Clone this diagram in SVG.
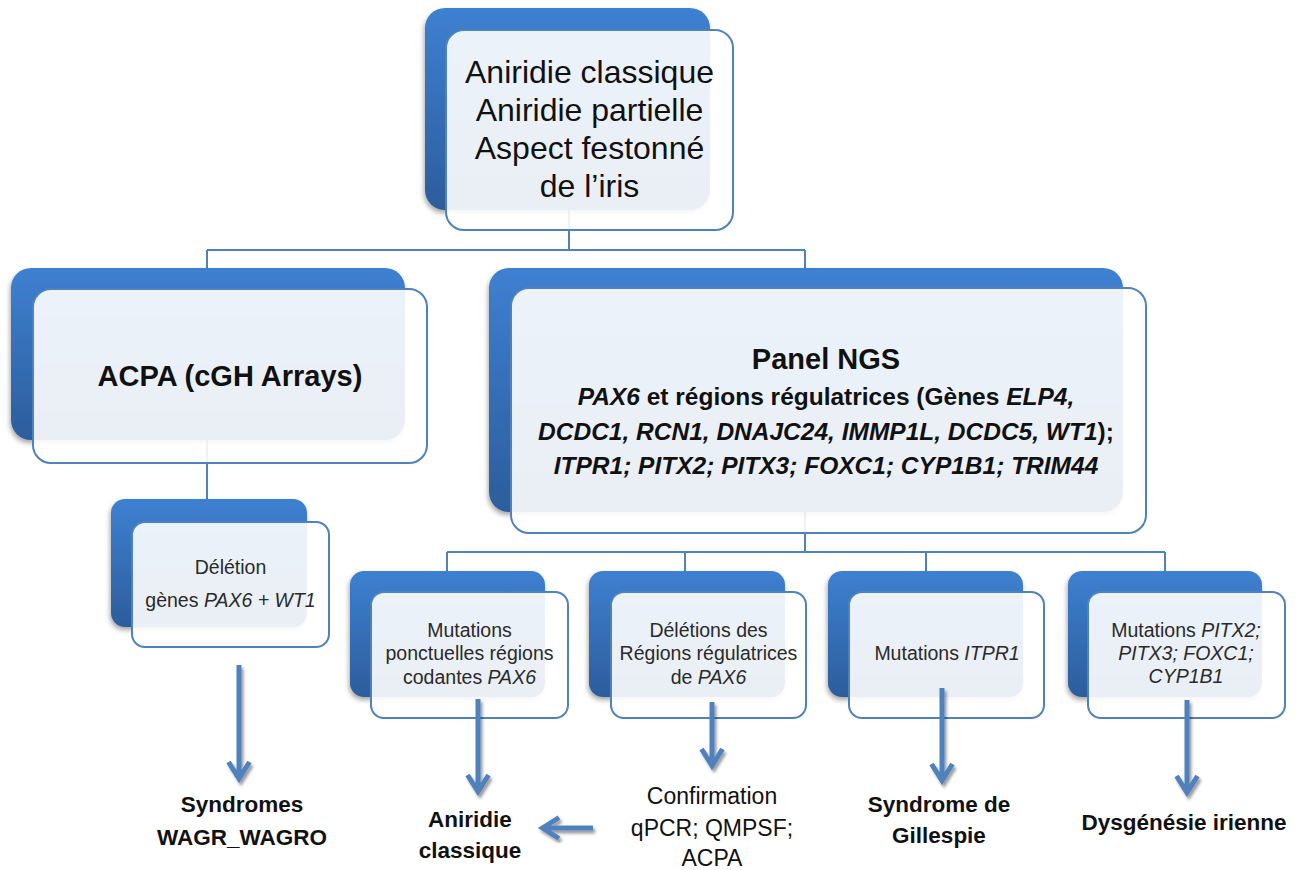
<svg xmlns="http://www.w3.org/2000/svg" width="1304" height="870" viewBox="0 0 1304 870">
<defs>
  <linearGradient id="gBack" x1="0" y1="0" x2="0" y2="1">
    <stop offset="0" stop-color="#3e80d1"/>
    <stop offset="1" stop-color="#2c5d9c"/>
  </linearGradient>
  <filter id="sh" x="-10%" y="-10%" width="125%" height="130%">
    <feDropShadow dx="-1" dy="3" stdDeviation="2.5" flood-color="#000" flood-opacity="0.35"/>
  </filter>
  <filter id="ash" x="-30%" y="-10%" width="160%" height="130%">
    <feDropShadow dx="2" dy="3" stdDeviation="1.5" flood-color="#000" flood-opacity="0.4"/>
  </filter>
</defs>
<style>
  .back{fill:url(#gBack);filter:url(#sh)}
  .front{fill:#ffffff;fill-opacity:0.9;stroke:#4f81bd;stroke-width:2}
  .conn{fill:none;stroke:#4f81bd;stroke-width:2}
  .arrow{fill:none;stroke:#4f81bd;stroke-width:5;stroke-linejoin:miter;filter:url(#ash)}
  text{font-family:"Liberation Sans",Arial,sans-serif;text-anchor:middle}
  .t1{font-size:32px;fill:#111}
  .t2{font-size:29px;font-weight:bold;fill:#111}
  .t3{font-size:24.5px;font-weight:bold;fill:#111}
  .t4{font-size:19.5px;fill:#2a2a2a}
  .t5{font-size:22.5px;font-weight:bold;fill:#111}
  .t6{font-size:23px;fill:#111}
  .i{font-style:italic}
</style>
<rect width="1304" height="870" fill="#ffffff"/>

<g id="connectors">
  <path class="conn" d="M569 205 V250 M207 250 H805 M207 250 V499 M805 250 V552 M447 552 H1165 M447 552 V571 M685 552 V571 M926 552 V571 M1165 552 V571"/>
</g>

<g id="node-top">
  <rect class="back" x="425" y="8" width="285" height="202" rx="20"/>
  <rect class="front" x="446" y="30" width="287" height="200" rx="18"/>
  <text class="t1" x="589.5" y="83">Aniridie classique</text>
  <text class="t1" x="589.5" y="121">Aniridie partielle</text>
  <text class="t1" x="589.5" y="159">Aspect festonné</text>
  <text class="t1" x="589.5" y="197">de l’iris</text>
</g>

<g id="node-acpa">
  <rect class="back" x="11" y="268" width="394" height="172" rx="20"/>
  <rect class="front" x="33" y="289" width="394" height="174" rx="18"/>
  <text class="t2" x="230" y="386">ACPA (cGH Arrays)</text>
</g>

<g id="node-panel">
  <rect class="back" x="489" y="268" width="634" height="244" rx="20"/>
  <rect class="front" x="511" y="288" width="635" height="245" rx="18"/>
  <text class="t2" x="826" y="369">Panel NGS</text>
  <text class="t3" x="826" y="405"><tspan class="i">PAX6</tspan> et régions régulatrices (Gènes <tspan class="i">ELP4,</tspan></text>
  <text class="t3" x="826" y="440"><tspan class="i">DCDC1, RCN1, DNAJC24, IMMP1L, DCDC5, WT1</tspan>);</text>
  <text class="t3 i" x="826" y="474">ITPR1; PITX2; PITX3; FOXC1; CYP1B1; TRIM44</text>
</g>

<g id="node-deletion">
  <rect class="back" x="111" y="499" width="196" height="128" rx="14"/>
  <rect class="front" x="132" y="522" width="197" height="125" rx="13"/>
  <text class="t4" x="230.5" y="574">Délétion</text>
  <text class="t4" x="230.5" y="607">gènes <tspan class="i">PAX6 + WT1</tspan></text>
</g>

<g id="node-mut-pax6">
  <rect class="back" x="350" y="571" width="195" height="126" rx="14"/>
  <rect class="front" x="371" y="592" width="197" height="126" rx="13"/>
  <text class="t4" x="469.5" y="637">Mutations</text>
  <text class="t4" x="469.5" y="660">ponctuelles régions</text>
  <text class="t4" x="469.5" y="684">codantes <tspan class="i">PAX6</tspan></text>
</g>

<g id="node-del-reg">
  <rect class="back" x="589" y="571" width="196" height="126" rx="14"/>
  <rect class="front" x="611" y="592" width="195" height="126" rx="13"/>
  <text class="t4" x="708.5" y="637">Délétions  des</text>
  <text class="t4" x="708.5" y="660">Régions régulatrices</text>
  <text class="t4" x="708.5" y="684">de <tspan class="i">PAX6</tspan></text>
</g>

<g id="node-itpr1">
  <rect class="back" x="828" y="571" width="195" height="126" rx="14"/>
  <rect class="front" x="849" y="592" width="195" height="126" rx="13"/>
  <text class="t4" x="947" y="660">Mutations  <tspan class="i">ITPR1</tspan></text>
</g>

<g id="node-pitx">
  <rect class="back" x="1068" y="571" width="194" height="126" rx="14"/>
  <rect class="front" x="1088" y="592" width="197" height="126" rx="13"/>
  <text class="t4" x="1186" y="637">Mutations <tspan class="i">PITX2;</tspan></text>
  <text class="t4 i" x="1186" y="660">PITX3; FOXC1;</text>
  <text class="t4 i" x="1186" y="683">CYP1B1</text>
</g>

<g id="arrows">
  <path class="arrow" d="M239 665 V778.5 M228.5 762 L239 778.5 L249.5 762"/>
  <path class="arrow" d="M478 699 V791.5 M467.5 775 L478 791.5 L488.5 775"/>
  <path class="arrow" d="M712 702 V765.5 M701.5 749 L712 765.5 L722.5 749"/>
  <path class="arrow" d="M942 688 V780.5 M931.5 764 L942 780.5 L952.5 764"/>
  <path class="arrow" d="M1187 700 V792.5 M1176.5 776 L1187 792.5 L1197.5 776"/>
  <path class="arrow" d="M593 828 H542.5 M559 817.5 L542.5 828 L559 838.5"/>
</g>

<g id="label-wagr">
  <text class="t5" x="242" y="812">Syndromes</text>
  <text class="t5" x="242" y="845">WAGR_WAGRO</text>
</g>
<g id="label-aniridie">
  <text class="t5" x="470" y="827">Aniridie</text>
  <text class="t5" x="470" y="858">classique</text>
</g>
<g id="label-confirmation">
  <text class="t6" x="712" y="804">Confirmation</text>
  <text class="t6" x="712" y="836">qPCR; QMPSF;</text>
  <text class="t6" x="712" y="866">ACPA</text>
</g>
<g id="label-gillespie">
  <text class="t5" x="939" y="812">Syndrome de</text>
  <text class="t5" x="939" y="843">Gillespie</text>
</g>
<g id="label-dysgenesie">
  <text class="t5" x="1184" y="830">Dysgénésie irienne</text>
</g>
</svg>
